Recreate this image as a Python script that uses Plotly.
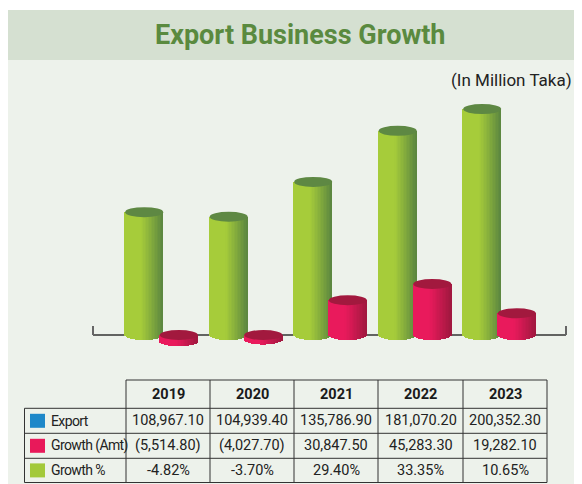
import plotly.graph_objects as go

# ---------------- data ----------------
years = ["2019", "2020", "2021", "2022", "2023"]
export_vals = [108967.10, 104939.40, 135786.90, 181070.20, 200352.30]
growth_amt = [-5514.80, -4027.70, 30847.50, 45283.30, 19282.10]
growth_pct = [-4.82, -3.70, 29.40, 33.35, 10.65]
row_labels = ["Export", "Growth (Amt)", "Growth %"]
row_colors = ["#1E88C9", "#E8195A", "#A3C93A"]

# ---------------- style ----------------
# The page has an 8px body margin, so figure pixel = page pixel - 8
OFF = 8
FW, FH = 582 - OFF, 484 - OFF
FONT = "Roboto, Liberation Sans, sans-serif"
BG = "#EDF2EB"
BANNER = "#D5E0D1"
GRID = "#333333"
UNITS_PER_PX = 887.0
BASE_PX = 335.0 - OFF
GROUP0_PX, GROUP_STEP_PX = 161.5 - OFF, 84.5
OFFSET = 0.205          # bar centre offset from group centre (category units)
HALF_W = 0.225          # half width of a cylinder (category units)
RY = 5 * UNITS_PER_PX   # vertical radius of the ellipses (data units)
NSTRIP = 26
COL_EDGES = [24.5, 126, 210, 294, 378, 463, 547]     # table column edges (page px)
ROW_EDGES = [380, 408.3, 433.3, 458.3, 482.5]         # table row edges (page px)


def px(X):   # page x -> paper fraction
    return (X - OFF) / FW


def py(Y):   # page y -> paper fraction
    return 1 - (Y - OFF) / FH


x_lo = -GROUP0_PX / GROUP_STEP_PX
x_hi = (FW - GROUP0_PX) / GROUP_STEP_PX
y_hi = BASE_PX * UNITS_PER_PX
y_lo = -(FH - BASE_PX) * UNITS_PER_PX


def hex2rgb(h):
    h = h.lstrip("#")
    return [int(h[i:i + 2], 16) for i in (0, 2, 4)]


def lerp(c1, c2, t):
    a, b = hex2rgb(c1), hex2rgb(c2)
    return "rgb(%d,%d,%d)" % tuple(round(a[i] + (b[i] - a[i]) * t) for i in range(3))


series = [
    dict(vals=export_vals, off=-OFFSET, light="#A6CC3A", dark="#5A8540", top="#5E8843"),
    dict(vals=growth_amt, off=OFFSET, light="#E91A5C", dark="#A0183F", top="#A2193E"),
]

fig = go.Figure()
shapes = []
annotations = []

# white top strip and title banner
shapes.append(dict(type="rect", xref="paper", yref="paper", x0=0, x1=1, y0=py(10), y1=1,
                   fillcolor="white", line=dict(width=0), layer="below"))
shapes.append(dict(type="rect", xref="paper", yref="paper", x0=0, x1=1, y0=py(60), y1=py(10),
                   fillcolor=BANNER, line=dict(width=0), layer="below"))

# baseline axis with end ticks
ax_l = (93 - OFF - GROUP0_PX) / GROUP_STEP_PX
ax_r = (566 - OFF - GROUP0_PX) / GROUP_STEP_PX
shapes.append(dict(type="line", xref="x", yref="y", x0=ax_l, x1=ax_r, y0=0, y1=0,
                   line=dict(color="#333333", width=1.5), layer="below"))
for xe in (ax_l, ax_r):
    shapes.append(dict(type="line", xref="x", yref="y", x0=xe, x1=xe, y0=0, y1=9 * UNITS_PER_PX,
                       line=dict(color="#666666", width=2), layer="below"))

# cylinders: bodies as narrow shaded bar strips, tops as ellipses
strip_w = 2 * HALF_W / NSTRIP
for s in series:
    for k in range(NSTRIP):
        u = -1 + (k + 0.5) * 2 / NSTRIP
        dy = RY * (max(0.0, 1 - u * u)) ** 0.5
        t = min(1.0, max(0.0, (u + 0.15) / 1.15)) ** 1.1
        col = lerp(s["light"], s["dark"], t)
        xs = [i + s["off"] + u * HALF_W for i in range(len(years))]
        bases = [min(0.0, v) - dy for v in s["vals"]]
        lens = [abs(v) + dy for v in s["vals"]]
        fig.add_trace(go.Bar(x=xs, y=lens, base=bases, width=strip_w * 1.25,
                             marker=dict(color=col, line=dict(width=0)),
                             hoverinfo="skip", showlegend=False))
    for i, v in enumerate(s["vals"]):
        top = max(0.0, v)
        c = i + s["off"]
        shapes.append(dict(type="circle", xref="x", yref="y", x0=c - HALF_W, x1=c + HALF_W,
                           y0=top - RY, y1=top + RY, fillcolor=s["top"],
                           line=dict(width=0), layer="above"))

# ---------------- data table ----------------
def fmt_amt(v):
    return "(%s)" % f"{abs(v):,.2f}" if v < 0 else f"{v:,.2f}"

table_rows = [
    [f"{v:,.2f}" for v in export_vals],
    [fmt_amt(v) for v in growth_amt],
    [f"{v:.2f}%" for v in growth_pct],
]

line = dict(color=GRID, width=1)
# horizontal rules
shapes.append(dict(type="line", xref="paper", yref="paper", x0=px(COL_EDGES[1]), x1=px(COL_EDGES[-1]),
                   y0=py(ROW_EDGES[0]), y1=py(ROW_EDGES[0]), line=line))
for ye in ROW_EDGES[1:]:
    shapes.append(dict(type="line", xref="paper", yref="paper", x0=px(COL_EDGES[0]), x1=px(COL_EDGES[-1]),
                       y0=py(ye), y1=py(ye), line=line))
# vertical rules
shapes.append(dict(type="line", xref="paper", yref="paper", x0=px(COL_EDGES[0]), x1=px(COL_EDGES[0]),
                   y0=py(ROW_EDGES[1]), y1=py(ROW_EDGES[-1]), line=line))
for xe in COL_EDGES[1:]:
    shapes.append(dict(type="line", xref="paper", yref="paper", x0=px(xe), x1=px(xe),
                       y0=py(ROW_EDGES[0]), y1=py(ROW_EDGES[-1]), line=line))

# header
hy = (ROW_EDGES[0] + ROW_EDGES[1]) / 2
for j, yr in enumerate(years):
    cx = (COL_EDGES[j + 1] + COL_EDGES[j + 2]) / 2
    annotations.append(dict(text="<b>%s</b>" % yr, xref="paper", yref="paper", x=px(cx), y=py(hy),
                            xanchor="center", yanchor="middle", showarrow=False,
                            font=dict(family=FONT, size=14.5, color="#1a1a1a")))
# body
for r, (lab, colr, vals) in enumerate(zip(row_labels, row_colors, table_rows)):
    y0, y1 = ROW_EDGES[r + 1], ROW_EDGES[r + 2]
    ym = (y0 + y1) / 2
    shapes.append(dict(type="rect", xref="paper", yref="paper", x0=px(30), x1=px(45),
                       y0=py(ym + 7), y1=py(ym - 7), fillcolor=colr, line=dict(width=0)))
    annotations.append(dict(text="<span style='letter-spacing:-0.6px'>%s</span>" % lab,
                            xref="paper", yref="paper", x=px(49), y=py(ym),
                            xanchor="left", yanchor="middle", showarrow=False,
                            font=dict(family=FONT, size=14, color="#222222")))
    for j, val in enumerate(vals):
        cx = (COL_EDGES[j + 1] + COL_EDGES[j + 2]) / 2
        annotations.append(dict(text=val, xref="paper", yref="paper", x=px(cx), y=py(ym),
                                xanchor="center", yanchor="middle", showarrow=False,
                                font=dict(family=FONT, size=14.5, color="#222222")))

# titles
annotations.append(dict(text="<b>Export Business Growth</b>", xref="paper", yref="paper",
                        x=px(300), y=py(35), xanchor="center", yanchor="middle", showarrow=False,
                        font=dict(family=FONT, size=27, color="#5A8A3F")))
annotations.append(dict(text="(In Million Taka)", xref="paper", yref="paper",
                        x=px(574), y=py(80), xanchor="right", yanchor="middle", showarrow=False,
                        font=dict(family=FONT, size=17, color="#222222")))

fig.update_layout(
    width=FW, height=FH,
    margin=dict(l=0, r=0, t=0, b=0),
    paper_bgcolor=BG, plot_bgcolor="rgba(0,0,0,0)",
    barmode="overlay", bargap=0,
    showlegend=False,
    xaxis=dict(range=[x_lo, x_hi], visible=False, fixedrange=True),
    yaxis=dict(range=[y_lo, y_hi], visible=False, fixedrange=True),
    shapes=shapes,
    annotations=annotations,
)

fig.write_html("out.html")
